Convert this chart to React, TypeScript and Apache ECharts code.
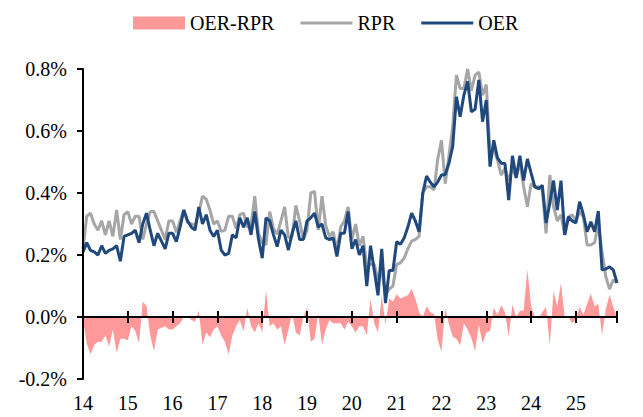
import React, { useEffect, useRef } from 'react';
import * as echarts from 'echarts';

const yearLabels = ['14', '15', '16', '17', '18', '19', '20', '21', '22', '23', '24', '25'];

// Monthly, Jan 2014 .. Dec 2025 (% m/m)
const oer = [
  0.21, 0.24, 0.215, 0.21, 0.20, 0.23, 0.205, 0.215, 0.22, 0.23, 0.18, 0.26,
  0.265, 0.27, 0.28, 0.24, 0.30, 0.335, 0.28, 0.23, 0.27, 0.245, 0.22, 0.27,
  0.27, 0.243, 0.29, 0.345, 0.31, 0.29, 0.28, 0.355, 0.30, 0.33, 0.28, 0.26,
  0.28, 0.216, 0.20, 0.205, 0.265, 0.255, 0.32, 0.29, 0.32, 0.265, 0.34, 0.25,
  0.19, 0.32, 0.31, 0.265, 0.227, 0.28, 0.265, 0.216, 0.27, 0.31, 0.25, 0.25,
  0.31, 0.32, 0.335, 0.29, 0.30, 0.255, 0.25, 0.255, 0.195, 0.27, 0.27, 0.34,
  0.22, 0.25, 0.20, 0.23, 0.10, 0.23, 0.15, 0.07, 0.22, 0.045, 0.15, 0.15,
  0.243, 0.235, 0.255, 0.29, 0.335, 0.31, 0.275, 0.40, 0.455, 0.435, 0.42, 0.436,
  0.458, 0.46, 0.496, 0.55, 0.71, 0.646, 0.716, 0.76, 0.662, 0.67, 0.765, 0.63,
  0.70, 0.485, 0.57, 0.513, 0.496, 0.495, 0.377, 0.52, 0.448, 0.52, 0.44, 0.51,
  0.464, 0.42, 0.414, 0.425, 0.303, 0.367, 0.44, 0.345, 0.44, 0.265, 0.323, 0.31,
  0.303, 0.372, 0.33, 0.275, 0.307, 0.275, 0.342, 0.152, 0.155, 0.162, 0.152, 0.11,
];

const rpr = [
  0.22, 0.325, 0.335, 0.30, 0.28, 0.31, 0.265, 0.31, 0.26, 0.345, 0.25, 0.33,
  0.34, 0.30, 0.325, 0.325, 0.25, 0.30, 0.34, 0.34, 0.31, 0.28, 0.25, 0.31,
  0.31, 0.273, 0.31, 0.345, 0.305, 0.30, 0.295, 0.335, 0.39, 0.38, 0.345, 0.30,
  0.31, 0.276, 0.28, 0.325, 0.325, 0.285, 0.33, 0.335, 0.29, 0.295, 0.39, 0.27,
  0.24, 0.233, 0.34, 0.285, 0.267, 0.31, 0.355, 0.256, 0.26, 0.36, 0.31, 0.25,
  0.28, 0.40, 0.405, 0.28, 0.39, 0.295, 0.26, 0.275, 0.215, 0.29, 0.31, 0.355,
  0.25, 0.30, 0.23, 0.26, 0.16, 0.17, 0.17, 0.12, 0.15, 0.07, 0.09, 0.10,
  0.17, 0.175, 0.19, 0.22, 0.245, 0.25, 0.26, 0.40, 0.42, 0.42, 0.41, 0.51,
  0.57, 0.43, 0.52, 0.614, 0.78, 0.737, 0.737, 0.80, 0.73, 0.78, 0.79, 0.715,
  0.75, 0.53, 0.54, 0.506, 0.458, 0.48, 0.44, 0.48, 0.45, 0.50, 0.42, 0.356,
  0.43, 0.42, 0.42, 0.41, 0.27, 0.458, 0.356, 0.31, 0.33, 0.265, 0.323, 0.33,
  0.31, 0.34, 0.323, 0.232, 0.232, 0.24, 0.30, 0.21, 0.13, 0.09, 0.12, 0.11,
];

const spread = oer.map((v, i) => Math.round((v - rpr[i]) * 1000) / 1000);

const FONT = "'Liberation Serif', 'Times New Roman', serif";
const BLACK = '#000000';

export default function App() {
  const ref = useRef<HTMLDivElement>(null);

  useEffect(() => {
    const chart = echarts.init(ref.current as HTMLDivElement, null, { renderer: 'svg' });
    const axisLineStyle = { color: BLACK, width: 2 };
    const lastIdx = oer.length - 1;
    const lineIcon = 'path://M0,0H52V3H0Z';

    chart.setOption({
      animation: false,
      textStyle: { fontFamily: FONT },
      legend: {
        left: 128,
        top: 8,
        itemWidth: 52,
        itemHeight: 13,
        itemGap: 26,
        itemStyle: { borderWidth: 0 },
        textStyle: { fontSize: 20, color: BLACK, fontFamily: FONT },
        data: [
          { name: 'OER-RPR', icon: 'rect' },
          { name: 'RPR', icon: lineIcon },
          { name: 'OER', icon: lineIcon },
        ],
      },
      grid: { left: 83, right: 26, top: 69, bottom: 38, containLabel: false, outerBoundsMode: 'none' },
      xAxis: [
        {
          type: 'value',
          min: 0,
          max: lastIdx,
          interval: 12,
          z: 5,
          axisLine: { show: true, onZero: true, onZeroAxisIndex: 0, lineStyle: axisLineStyle },
          axisTick: { show: true, length: 6, lineStyle: axisLineStyle },
          axisLabel: {
            margin: 14,
            fontSize: 20,
            color: BLACK,
            fontFamily: FONT,
            formatter: (v: number) => (v % 12 === 0 ? yearLabels[v / 12] ?? '' : ''),
          },
          splitLine: { show: false },
        },
        {
          type: 'value',
          position: 'top',
          min: 0,
          max: lastIdx,
          interval: 12,
          z: 5,
          axisLine: { show: false, onZero: true, onZeroAxisIndex: 0 },
          axisTick: { show: true, length: 6, lineStyle: axisLineStyle },
          axisLabel: { show: false },
          splitLine: { show: false },
        },
      ],
      yAxis: {
        type: 'value',
        min: -0.2,
        max: 0.8,
        interval: 0.2,
        z: 5,
        axisLine: { show: true, onZero: false, lineStyle: axisLineStyle },
        axisTick: { show: true, length: 6, lineStyle: axisLineStyle },
        axisLabel: {
          margin: 16,
          fontSize: 20,
          color: BLACK,
          fontFamily: FONT,
          formatter: (v: number) => v.toFixed(1) + '%',
        },
        splitLine: { show: false },
      },
      series: [
        {
          name: 'OER-RPR',
          type: 'line',
          xAxisIndex: 0,
          symbol: 'none',
          data: spread.map((v, i) => [i, v]),
          lineStyle: { width: 0, color: '#FF9999' },
          itemStyle: { color: '#FF9999' },
          areaStyle: { color: '#FF9999', opacity: 1 },
          z: 1,
        },
        {
          name: 'RPR',
          type: 'line',
          xAxisIndex: 0,
          symbol: 'none',
          data: rpr.map((v, i) => [i, v]),
          lineStyle: { width: 3, color: '#A6A6A6' },
          itemStyle: { color: '#A6A6A6' },
          z: 2,
        },
        {
          name: 'OER',
          type: 'line',
          xAxisIndex: 0,
          symbol: 'none',
          data: oer.map((v, i) => [i, v]),
          lineStyle: { width: 3, color: '#1F497D' },
          itemStyle: { color: '#1F497D' },
          z: 3,
        },
      ],
    });

    return () => {
      chart.dispose();
    };
  }, []);

  return (
    <div
      ref={ref}
      style={{ position: 'absolute', left: 0, top: 0, width: 643, height: 417, background: '#ffffff' }}
    />
  );
}
